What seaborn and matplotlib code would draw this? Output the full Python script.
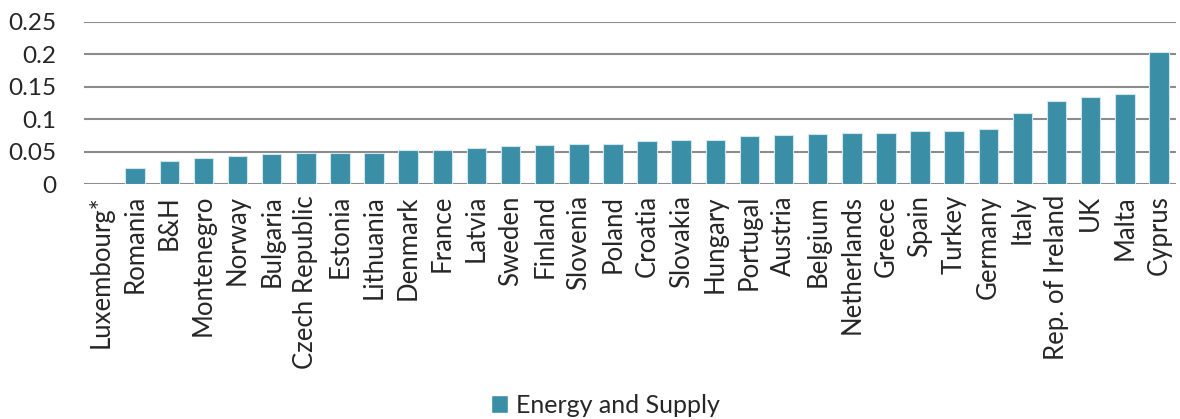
import matplotlib
matplotlib.use("Agg")
import matplotlib.pyplot as plt
import seaborn as sns
import pandas as pd
from matplotlib.patches import Patch

countries = ["Luxembourg*", "Romania", "B&H", "Montenegro", "Norway", "Bulgaria",
             "Czech Republic", "Estonia", "Lithuania", "Denmark", "France", "Latvia",
             "Sweden", "Finland", "Slovenia", "Poland", "Croatia", "Slovakia", "Hungary",
             "Portugal", "Austria", "Belgium", "Netherlands", "Greece", "Spain", "Turkey",
             "Germany", "Italy", "Rep. of Ireland", "UK", "Malta", "Cyprus"]
values = [0.0, 0.025, 0.035, 0.0406, 0.0432, 0.0463, 0.0473, 0.0473, 0.0483, 0.052,
          0.0525, 0.0556, 0.059, 0.0607, 0.0617, 0.0622, 0.0658, 0.068, 0.0684,
          0.0736, 0.0761, 0.0777, 0.0782, 0.0787, 0.0818, 0.0823, 0.0844, 0.110,
          0.128, 0.134, 0.139, 0.204]
series_name = "Energy and Supply"
yticks = [0, 0.05, 0.1, 0.15, 0.2, 0.25]
ytick_labels = ["0", "0.05", "0.1", "0.15", "0.2", "0.25"]

df = pd.DataFrame({"country": countries, "value": values})

sns.set_theme(style="white")
plt.rcParams["font.family"] = ["Lato", "DejaVu Sans"]

color = "#3A8FA7"
fig = plt.figure(figsize=(11.8, 4.19), dpi=100)
ax = fig.add_axes([84 / 1180, 1 - 184 / 419, (1176 - 84) / 1180, (184 - 22) / 419])

sns.barplot(data=df, x="country", y="value", color=color, width=0.57,
            edgecolor="#cfe6ee", linewidth=0.8, ax=ax, saturation=1, zorder=3)

ax.set_ylim(0, 0.25)
ax.set_xlim(-0.5, len(countries) - 0.5)
ax.set_yticks(yticks)
ax.set_yticklabels(ytick_labels, fontsize=17.5)
ax.yaxis.grid(True, color="#8c8c8c", linewidth=1.5, zorder=0)
ax.set_axisbelow(True)
for s in ax.spines.values():
    s.set_visible(False)
ax.tick_params(axis="y", length=0, pad=20)
ax.tick_params(axis="x", length=0, pad=8)
ax.set_xticks(range(len(countries)))
ax.set_xticklabels(countries, rotation=90, fontsize=18.5)
ax.set_xlabel("")
ax.set_ylabel("")

fig.legend(handles=[Patch(facecolor=color, label=series_name)], loc="center",
           bbox_to_anchor=(0.513, 1 - 405 / 419), frameon=False, fontsize=18,
           handlelength=0.7, handleheight=0.7, handletextpad=0.3)

fig.savefig("out.png", dpi=100)
